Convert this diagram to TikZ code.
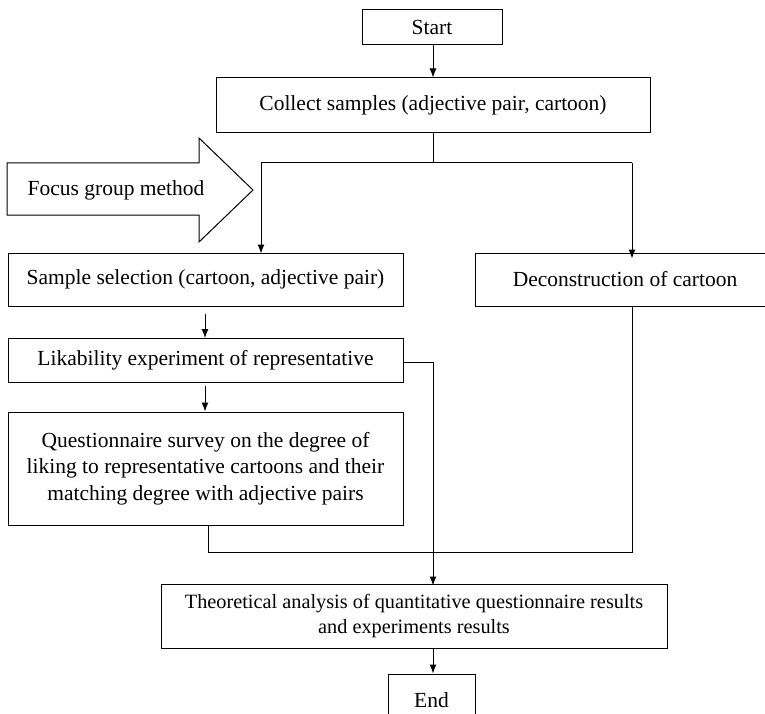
\documentclass[tikz,border=0pt]{standalone}
\usepackage{fontspec}
\setmainfont{Liberation Serif}
\usetikzlibrary{arrows.meta}
\begin{document}
\begin{tikzpicture}[x=1pt,y=-1pt,
  box/.style={draw=black,line width=1pt,rectangle,inner sep=0pt,align=center,font=\fontsize{21.5}{26.5}\selectfont},
  conn/.style={draw=black,line width=1pt},
  arr/.style={conn,-{Latex[length=9pt,width=7pt]}}]
\useasboundingbox (0,0) rectangle (765,714);
\node[box,minimum width=140pt,minimum height=35pt] (start) at (432,27.5) {Start};
\node[box,minimum width=434pt,minimum height=55pt] (collect) at (433,105.5) {Collect samples (adjective pair, cartoon)};
\node[box,minimum width=395pt,minimum height=53pt] (sample) at (205.5,279.5) {Sample selection (cartoon, adjective pair)};
\node[box,minimum width=300pt,minimum height=53pt] (decon) at (625,279.5) {Deconstruction of cartoon};
\node[box,minimum width=395pt,minimum height=44pt] (like) at (205.5,360.5) {Likability experiment of representative};
\node[box,minimum width=395pt,minimum height=113pt] (quest) at (205.5,468.5) {Questionnaire survey on the degree of\\liking to representative cartoons and their\\matching degree with adjective pairs};
\node[box,minimum width=506pt,minimum height=64pt,font=\fontsize{20.3}{25}\selectfont] (theo) at (414,616) {Theoretical analysis of quantitative questionnaire results\\and experiments results};
\node[box,minimum width=87pt,minimum height=52pt] (end) at (431.5,700) {End};
% focus group arrow
\draw[line width=1pt] (7,163) -- (199,163) -- (199,138) -- (253,190) -- (199,242) -- (199,215) -- (7,215) -- cycle;
\node[font=\fontsize{21.5}{26}\selectfont] (focus) at (116,190) {Focus group method};
% connectors
\coordinate (split) at (433,163);
\coordinate (sL) at (261,163);
\coordinate (sR) at (632,163);
\coordinate (likeR) at (433,362);
\coordinate (joinL) at (208,552);
\coordinate (joinR) at (632,552);
\draw[arr] (start.south -| split) -- (collect.north -| split);
\draw[conn] (collect.south -| split) -- (split);
\draw[conn] (sL) -- (sR);
\draw[arr] (sL) -- ([yshift=-1pt]sample.north -| sL);
\draw[arr] (sR) -- ([yshift=-6pt]decon.north -| sR);
\draw[arr,shorten <=7pt] (sample.south -| 205,0) -- (like.north -| 205,0);
\draw[arr,shorten <=3pt] (like.south -| 205,0) -- (quest.north -| 205,0);
\draw[conn] (like.east |- likeR) -- (likeR);
\draw[arr] (likeR) -- ([yshift=-2pt]theo.north -| likeR);
\draw[conn] (quest.south -| joinL) -- (joinL) -- (joinR) -- (decon.south -| joinR);
\draw[arr] (theo.south -| likeR) -- (end.north -| likeR);
\end{tikzpicture}
\end{document}
